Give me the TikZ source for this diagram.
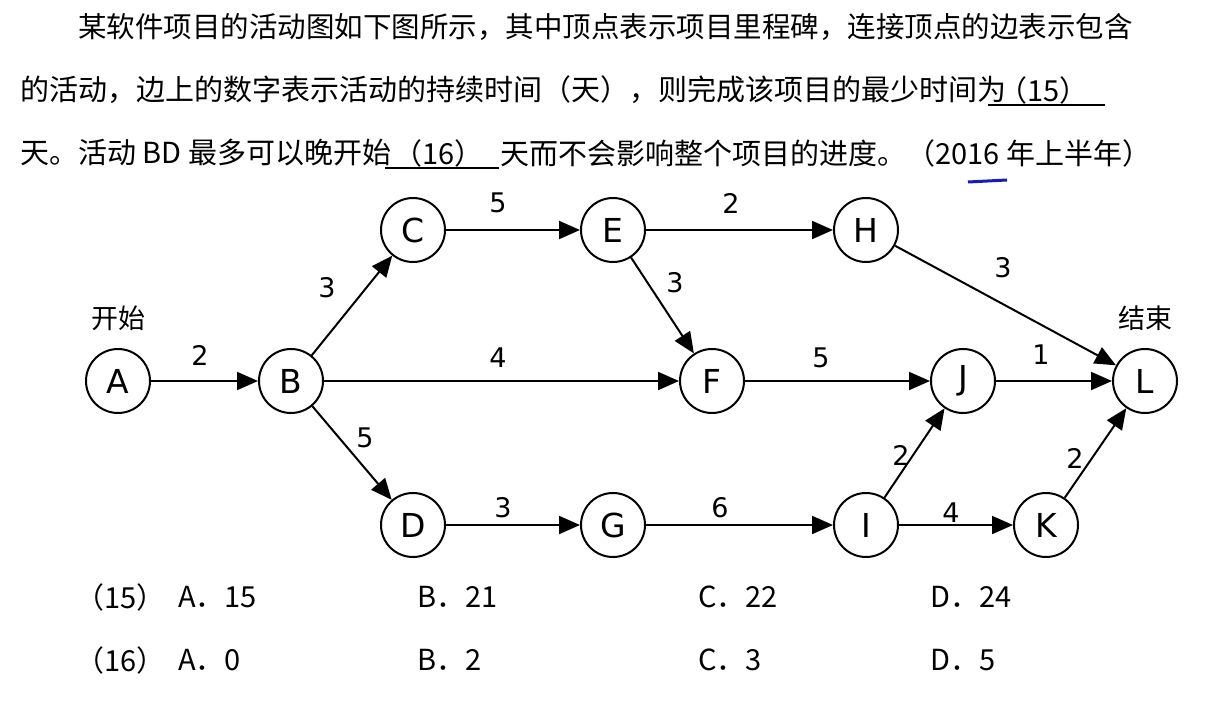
\documentclass[tikz,border=0pt]{standalone}
\usepackage{fontspec}
\setmainfont{Liberation Sans}
\newfontfamily\cjk{Noto Sans CJK SC}
\newfontfamily\dv{DejaVu Sans}
\usetikzlibrary{arrows.meta,positioning}
\definecolor{penblue}{RGB}{25,25,190}

\begin{document}
\begin{tikzpicture}[x=1pt,y=-1pt]
\tikzstyle{every node}=[inner sep=0pt]
\tikzstyle{milestone}=[draw, circle, line width=2pt, minimum size=64pt, font=\dv\fontsize{33pt}{33pt}\selectfont]
\tikzstyle{act}=[line width=2pt, -{Triangle[length=21pt,width=18pt]}]
\tikzstyle{dur}=[font=\dv\fontsize{27pt}{27pt}\selectfont]
\tikzstyle{txt}=[anchor=west, font=\cjk\fontsize{29pt}{29pt}\selectfont]
\tikzstyle{tag}=[font=\cjk\fontsize{27pt}{27pt}\selectfont]
\tikzstyle{blank}=[line width=2pt]
\fill[white] (0,0) rectangle (1232,701);
\useasboundingbox (0,0) rectangle (1232,701);
% question text
\node[txt, font=\cjk\fontsize{28.5pt}{28.5pt}\selectfont] (line1) at (78,27) {某软件项目的活动图如下图所示，其中顶点表示项目里程碑，连接顶点的边表示包含};
\node[txt] (line2) at (20,90) {的活动，边上的数字表示活动的持续时间（天），则完成该项目的最少时间为};
\node[txt] (blank15) at (988,90) {\kern10pt（15）\kern16pt};
\draw[blank] ([yshift=-1pt]blank15.south west) -- ([yshift=-1pt]blank15.south east);
\node[txt] (line3a) at (20,153) {天。活动 BD 最多可以晚开始};
\node[txt] (blank16) at (385,153) {\kern8pt（16）\kern15pt};
\draw[blank] ([yshift=-1pt]blank16.south west) -- ([yshift=-1pt]blank16.south east);
\node[txt] (line3b) at (500,153) {天而不会影响整个项目的进度。（2016 年上半年）};
\draw[penblue, line width=3pt] (968,182) -- (1007,180);
% milestones
\node[milestone] (A) at (118,381) {A};
\node[milestone] (B) at (291,381) {B};
\node[milestone] (C) at (413,230) {C};
\node[milestone] (E) at (613,230) {E};
\node[milestone] (H) at (866,230) {H};
\node[milestone] (F) at (712,381) {F};
\node[milestone] (J) at (963,381) {J};
\node[milestone] (L) at (1145,381) {L};
\node[milestone] (D) at (413,525) {D};
\node[milestone] (G) at (613,525) {G};
\node[milestone] (I) at (866,525) {I};
\node[milestone] (K) at (1046,525) {K};
\node[tag] (start) [above=17pt of A] {开始};
\node[tag] (finish) [above=17pt of L] {结束};
% activities
\draw[act] (A) -- (B);
\draw[act] (B) -- (C);
\draw[act] (B) -- (F);
\draw[act] (B) -- (D);
\draw[act] (C) -- (E);
\draw[act] (E) -- (H);
\draw[act] (E) -- (F);
\draw[act] (H) -- (L);
\draw[act] (F) -- (J);
\draw[act] (J) -- (L);
\draw[act] (D) -- (G);
\draw[act] (G) -- (I);
\draw[act] (I) -- (J);
\draw[act] (I) -- (K);
\draw[act] (K) -- (L);
% durations
\node[dur] (dAB) at (200,355) {2};
\node[dur] (dBC) at (327,288) {3};
\node[dur] (dCE) at (498,203) {5};
\node[dur] (dEH) at (731,203) {2};
\node[dur] (dHL) at (1003,268) {3};
\node[dur] (dEF) at (675,283) {3};
\node[dur] (dBF) at (498,358) {4};
\node[dur] (dFJ) at (821,358) {5};
\node[dur] (dJL) at (1041,355) {1};
\node[dur] (dBD) at (365,438) {5};
\node[dur] (dDG) at (503,508) {3};
\node[dur] (dGI) at (720,508) {6};
\node[dur] (dIJ) at (901,455) {2};
\node[dur] (dIK) at (951,513) {4};
\node[dur] (dKL) at (1075,458) {2};
% choices
\node[txt] (q15) at (75,597) {（15）};
\node[txt] (q15a) at (178,597) {A．15};
\node[txt] (q15b) at (417,597) {B．21};
\node[txt] (q15c) at (698,597) {C．22};
\node[txt] (q15d) at (930,597) {D．24};
\node[txt] (q16) at (75,660) {（16）};
\node[txt] (q16a) at (178,660) {A．0};
\node[txt] (q16b) at (417,660) {B．2};
\node[txt] (q16c) at (698,660) {C．3};
\node[txt] (q16d) at (930,660) {D．5};
\end{tikzpicture}
\end{document}
